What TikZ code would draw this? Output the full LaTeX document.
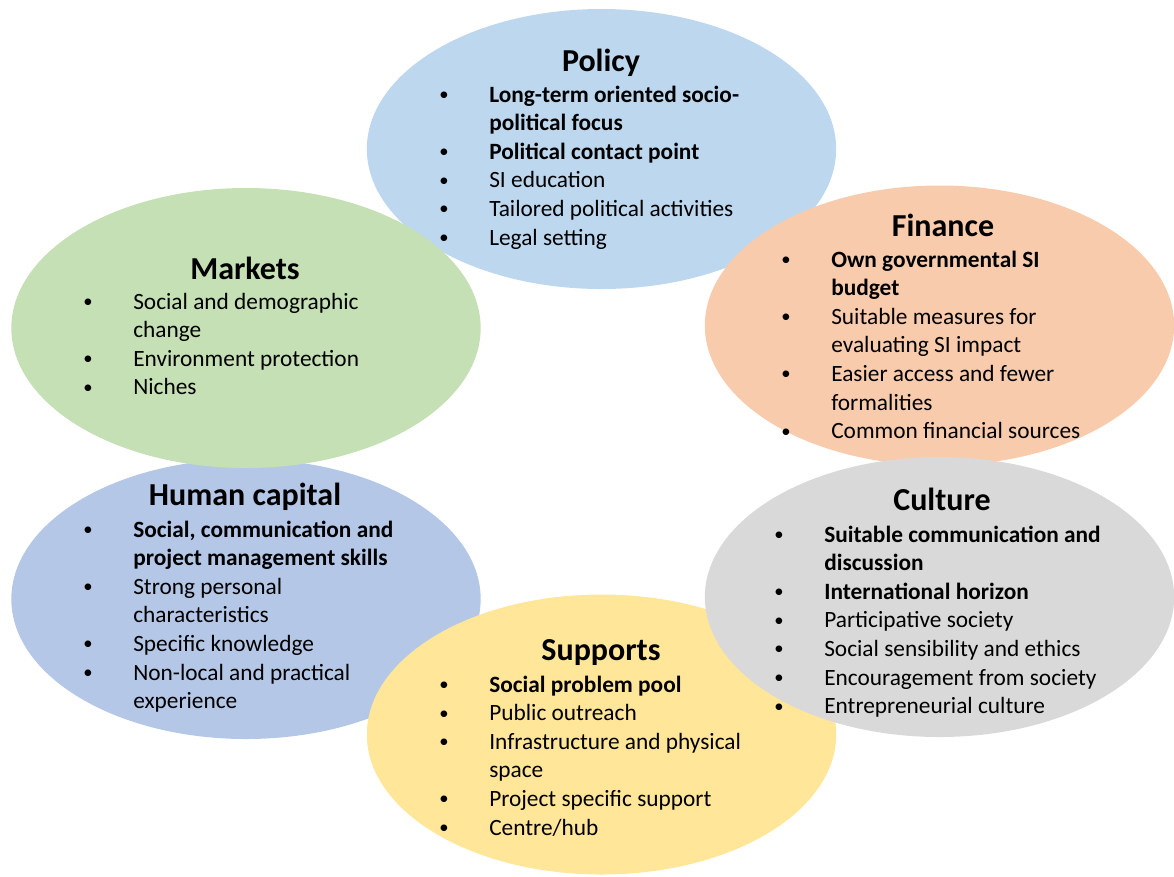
\documentclass[tikz,border=0pt]{standalone}
\usepackage{fontspec}
\setmainfont{Carlito}
\usepackage{tikz}
\usetikzlibrary{shapes.geometric, positioning}
\definecolor{polblue}{HTML}{BDD7EE}
\definecolor{finorange}{HTML}{F8CBAD}
\definecolor{mktgreen}{HTML}{C5E0B4}
\definecolor{humblue}{HTML}{B4C7E7}
\definecolor{culgrey}{HTML}{D9D9D9}
\definecolor{supyellow}{HTML}{FFE699}
\tikzset{
  zone/.style={ellipse, minimum width=352pt, minimum height=210pt, inner sep=0pt},
  ttl/.style={font=\fontsize{24}{29}\selectfont\bfseries, anchor=base, inner sep=0pt},
  lst/.style={font=\fontsize{17.5}{21.45}\selectfont, anchor=base west, inner sep=0pt}
}
\newcommand{\bul}{\hspace*{-1.5pt}\raisebox{1.2pt}{\scalebox{0.8}{\textbullet}}}
\newcommand{\itm}[1]{\bul & #1\\}
\newcommand{\bitm}[1]{\bul & \textbf{#1}\\}
\newcommand{\cnt}[1]{& #1\\}
\newcommand{\bcnt}[1]{& \textbf{#1}\\}
\newenvironment{blist}{\begin{tabular}[t]{@{}p{36pt}@{}l@{}}}{\end{tabular}}

\begin{document}
\begin{tikzpicture}[x=0.75pt, y=-0.75pt]
\useasboundingbox (0,0) rectangle (1174,876);

%--- POLICY ---
\node[zone, fill=polblue] (policy) at (601.5,149) {};
\node[ttl] (ptitle) at (601,71) {Policy};
\node[lst] (plist) at (441,102) {\begin{blist}
  \bitm{Long-term oriented socio-}
  \bcnt{political focus}
  \bitm{Political contact point}
  \itm{SI education}
  \itm{Tailored political activities}
  \itm{Legal setting}
\end{blist}};

%--- HUMAN CAPITAL ---
\node[zone, fill=humblue] (hcap) at (246,599) {};
\node[ttl] (htitle) at (245,505) {Human capital};
\node[lst] (hlist) at (85,537) {\begin{blist}
  \bitm{Social, communication and}
  \bcnt{project management skills}
  \itm{Strong personal}
  \cnt{characteristics}
  \itm{Specific knowledge}
  \itm{Non-local and practical}
  \cnt{experience}
\end{blist}};

%--- MARKETS ---
\node[zone, fill=mktgreen] (markets) at (246,328) {};
\node[ttl] (mtitle) at (245,279) {Markets};
\node[lst] (mlist) at (85,309) {\begin{blist}
  \itm{Social and demographic}
  \cnt{change}
  \itm{Environment protection}
  \itm{Niches}
\end{blist}};

%--- FINANCE ---
\node[zone, fill=finorange] (finance) at (939.5,325.5) {};
\node[ttl] (ftitle) at (943,236) {Finance};
\node[lst] (flist) at (783,267) {\begin{blist}
  \bitm{Own governmental SI}
  \bcnt{budget}
  \itm{Suitable measures for}
  \cnt{evaluating SI impact}
  \itm{Easier access and fewer}
  \cnt{formalities}
  \itm{Common financial sources}
\end{blist}};

%--- SUPPORTS ---
\node[zone, fill=supyellow] (supports) at (601.5,734.5) {};
\node[ttl] (stitle) at (601,660) {Supports};
\node[lst] (slist) at (441,692) {\begin{blist}
  \bitm{Social problem pool}
  \itm{Public outreach}
  \itm{Infrastructure and physical}
  \cnt{space}
  \itm{Project specific support}
  \itm{Centre/hub}
\end{blist}};

%--- CULTURE ---
\node[zone, fill=culgrey] (culture) at (939.5,597) {};
\node[ttl] (ctitle) at (942,510) {Culture};
\node[lst] (clist) at (776,542) {\begin{blist}
  \bitm{Suitable communication and}
  \bcnt{discussion}
  \bitm{International horizon}
  \itm{Participative society}
  \itm{Social sensibility and ethics}
  \itm{Encouragement from society}
  \itm{Entrepreneurial culture}
\end{blist}};
\end{tikzpicture}
\end{document}
